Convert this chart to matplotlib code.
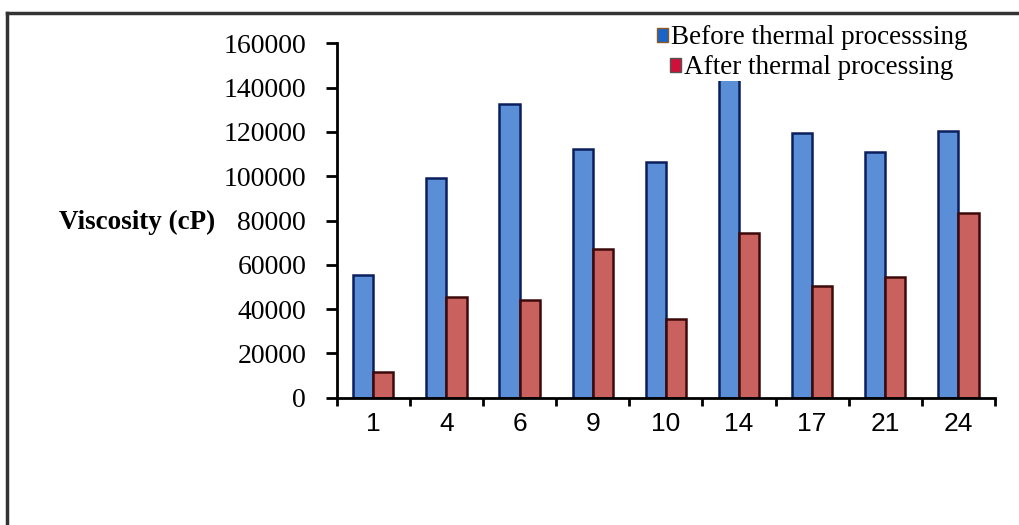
import matplotlib
matplotlib.use("Agg")
import matplotlib.pyplot as plt
import numpy as np
from matplotlib.patches import Patch
from matplotlib.lines import Line2D

categories = ["1", "4", "6", "9", "10", "14", "17", "21", "24"]
before = [55500, 99000, 132500, 112500, 106500, 150000, 119700, 110800, 120400]
after = [11500, 45600, 44100, 67300, 35500, 74200, 50400, 54600, 83500]
yticks = [0, 20000, 40000, 60000, 80000, 100000, 120000, 140000, 160000]

W, H = 1019, 525
fig = plt.figure(figsize=(W / 100, H / 100), dpi=100)
fig.patch.set_facecolor("white")

ax = fig.add_axes([336.7 / W, 1 - 397.7 / H, (995 - 336.7) / W, (397.7 - 43.3) / H])

x = np.arange(len(categories))
w = 0.275
ax.bar(x - w / 2, before, w, color="#5A8ED6", edgecolor="#0B1F5C", linewidth=1.8, zorder=2)
ax.bar(x + w / 2, after, w, color="#C9625E", edgecolor="#3D0A0A", linewidth=1.8, zorder=2)

ax.set_xlim(-0.5, len(categories) - 0.5)
ax.set_ylim(0, 160000)
ax.set_yticks(yticks)
ax.set_yticklabels([str(v) for v in yticks], fontfamily="Liberation Serif", fontsize=20)

ax.set_xticks(np.arange(-0.5, len(categories)), labels=[""] * (len(categories) + 1))
ax.set_xticks(x, labels=categories, minor=True)
ax.tick_params(axis="x", which="major", length=6, width=2, direction="out")
ax.tick_params(axis="x", which="minor", length=0, pad=10, labelsize=19)
for t in ax.get_xticklabels(minor=True):
    t.set_fontfamily("Liberation Sans")
ax.tick_params(axis="y", length=8, width=2, direction="out", pad=14)

for s in ["top", "right"]:
    ax.spines[s].set_visible(False)
for s in ["left", "bottom"]:
    ax.spines[s].set_linewidth(2)
    ax.spines[s].set_zorder(3)

ax.set_ylabel("Viscosity (cP)", rotation=0, fontfamily="Liberation Serif",
              fontweight="bold", fontsize=19.5, ha="right", va="center")
ax.yaxis.set_label_coords((215 - 336.7) / (995 - 336.7), (397.7 - 222) / (397.7 - 43.3))

h1 = Patch(facecolor="#1a63c9", edgecolor="#8a5a20", linewidth=1)
h2 = Patch(facecolor="#d0103a", edgecolor="#555555", linewidth=1)
common = dict(loc="center", frameon=True, facecolor="white", edgecolor="none",
              framealpha=1, borderpad=0.0, handlelength=0.4, handleheight=0.4,
              handletextpad=0.12, bbox_transform=fig.transFigure,
              prop={"family": "Liberation Serif", "size": 19.5})
leg1 = ax.legend([h1], ["Before thermal processsing"], bbox_to_anchor=(812 / W, 1 - 38 / H), **common)
ax.add_artist(leg1)
leg2 = ax.legend([h2], ["After thermal processing"], bbox_to_anchor=(812 / W, 1 - 68 / H), **common)
leg1.set_zorder(5)
leg2.set_zorder(5)

# outer frame (partially cropped)
fig.add_artist(Line2D([7 / W, 7 / W], [1 - 13 / H, 0], transform=fig.transFigure,
                      color="#333333", linewidth=2.5))
fig.add_artist(Line2D([7 / W, 1], [1 - 13 / H, 1 - 13 / H], transform=fig.transFigure,
                      color="#333333", linewidth=2.5))

fig.savefig("out.png", dpi=100)
